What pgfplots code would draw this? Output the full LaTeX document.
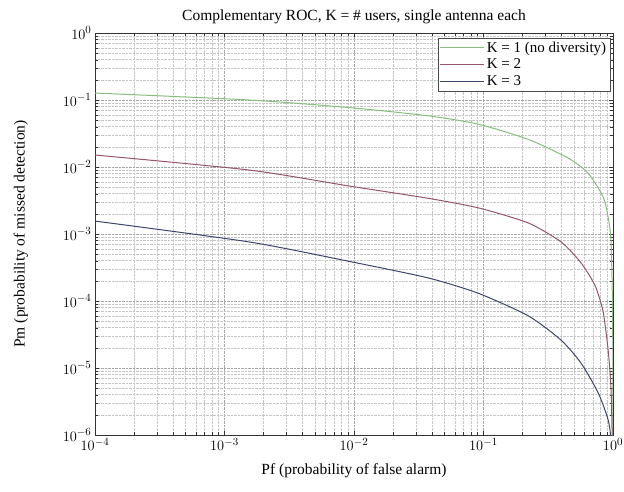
\documentclass[border=0pt]{standalone}
\usepackage{pgfplots}
\pgfplotsset{compat=1.18}
\usepackage{fontspec}
\setmainfont{Liberation Serif}

\definecolor{kone}{RGB}{135,190,125}
\definecolor{ktwo}{RGB}{150,85,105}
\definecolor{kthree}{RGB}{60,70,110}

\begin{document}
\begin{tikzpicture}
\useasboundingbox (-95pt,-56pt) rectangle (529pt,435pt);
\begin{loglogaxis}[
  at={(0,0)}, anchor=south west,
  scale only axis,
  width=518pt, height=402pt,
  xmin=1e-4, xmax=1,
  ymin=1e-6, ymax=1,
  grid=both,
  major grid style={densely dotted, gray!70},
  minor grid style={densely dotted, gray!45},
  tick align=inside,
  tick style={black!80},
  axis line style={black!80},
  font=\fontsize{15.5}{18}\selectfont,
  title={Complementary ROC, K = \# users, single antenna each},
  xlabel={Pf (probability of false alarm)},
  ylabel={Pm (probability of missed detection)},
  xlabel shift=6pt,
  ylabel shift=28pt,
  legend style={at={(0.995,0.988)}, anchor=north east,
    font=\fontsize{15}{17}\selectfont, draw=black!70,
    cells={anchor=west}, row sep=1pt, inner sep=2pt},
  legend cell align=left,
  legend image code/.code={\draw[#1] (0pt,0pt) -- (44pt,0pt);},
]
\addplot[kone, line width=1pt, smooth, tension=0.4] coordinates {
  (1e-4,0.127) (1.56e-3,0.100) (9.2e-3,0.077) (0.0378,0.058) (0.0916,0.0435)
  (0.222,0.0258) (0.451,0.0136) (0.642,0.0081) (0.838,0.0036) (0.916,0.0018)
  (0.965,8.1e-4) (0.99,1e-4) (0.998,1e-5) (0.9999,1e-7)
};
\addlegendentry{K = 1 (no diversity)}
\addplot[ktwo, line width=1pt, smooth, tension=0.4] coordinates {
  (1e-4,0.0151) (1.56e-3,0.0090) (9.2e-3,0.0052) (0.0378,0.0034) (0.0916,0.00245)
  (0.222,0.00146) (0.398,7.6e-4) (0.567,3.7e-4) (0.727,1.7e-4) (0.838,7e-5)
  (0.916,1.9e-5) (0.965,5e-6) (0.99,5e-7) (0.999,1e-8)
};
\addlegendentry{K = 2}
\addplot[kthree, line width=1pt, smooth, tension=0.4] coordinates {
  (1e-4,0.00156) (1.56e-3,7.6e-4) (9.2e-3,3.9e-4) (0.0378,2.2e-4) (0.0916,1.3e-4)
  (0.222,6.0e-5) (0.398,2.6e-5) (0.567,1.18e-5) (0.767,4.3e-6) (0.916,1.7e-6)
  (0.965,8e-7) (0.99,1e-7)
};
\addlegendentry{K = 3}
\end{loglogaxis}
\end{tikzpicture}
\end{document}
